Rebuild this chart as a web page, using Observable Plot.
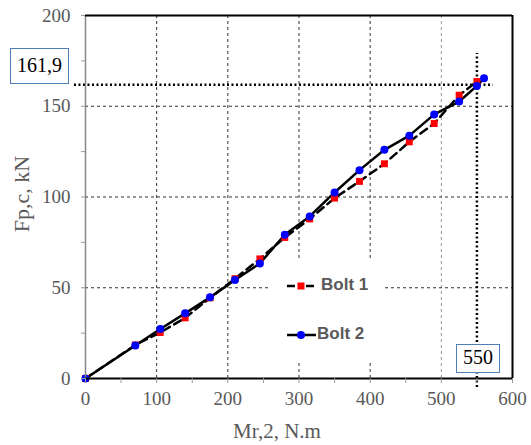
<!DOCTYPE html>
<html><head><meta charset="utf-8">
<script src="https://cdn.jsdelivr.net/npm/d3@7"></script>
<script src="https://cdn.jsdelivr.net/npm/@observablehq/plot@0.6"></script>
<style>body{margin:0;background:#fff}</style>
</head><body><div id="chart"></div>
<script>
// Data
const bolt1X = [0,70,105,140,175,210,245,280,315,350,385,420,455,490,525,550];
const bolt1Y = [0,18.5,25.3,33.4,44.4,55,65.9,77.7,87.9,99.4,108.6,118.3,130.4,140.5,156.1,163.6];
const bolt2X = [0,70,105,140,175,210,245,280,315,350,385,420,455,490,525,550,560];
const bolt2Y = [0,18.2,27.3,35.9,44.7,54.3,63.4,79.2,89.3,102.5,114.8,126,133.8,145.5,152.6,161.2,165.4];
const seriesNames = ["Bolt 1","Bolt 2"];
const xTicks = [0,100,200,300,400,500,600];
const yTicks = [0,50,100,150,200];
const markLoad = 161.9, markLoadLabel = "161,9";
const markMoment = 550, markMomentLabel = "550";
const xLabel = "Mr,2, N.m", yLabel = "Fp,c, kN";

const bolt1 = bolt1X.map((x,i)=>({x, y: bolt1Y[i]}));
const bolt2 = bolt2X.map((x,i)=>({x, y: bolt2Y[i]}));

const svg = Plot.plot({
  width: 531, height: 445,
  marginLeft: 85, marginRight: 19, marginTop: 15, marginBottom: 67,
  x: {domain: [0, 600]},
  y: {domain: [0, 200]},
  style: {fontFamily: "'Liberation Serif', serif", fontSize: "19px", color: "#595959", background: "#fff", overflow: "visible"},
  marks: [
    Plot.gridX(xTicks.filter(d => d > 0 && d < 500), {stroke: "#333", strokeOpacity: 1, strokeDasharray: "3,3", strokeWidth: 1}),
    Plot.gridX([500], {stroke: "#999", strokeOpacity: 1, strokeDasharray: "3,3", strokeWidth: 1}),
    Plot.gridY(yTicks.filter(d => d > 0 && d < 200), {stroke: "#333", strokeOpacity: 1, strokeDasharray: "3,3", strokeWidth: 1}),
    Plot.line(bolt1, {x: "x", y: "y", stroke: "#000", strokeWidth: 2.5, strokeDasharray: "8,5"}),
    Plot.line(bolt2, {x: "x", y: "y", stroke: "#000", strokeWidth: 2.5}),
    Plot.ruleY([markLoad], {x1: () => -15.5, x2: () => 573, stroke: "#000", strokeWidth: 2.5, strokeDasharray: "2,2.5"}),
    Plot.ruleX([markMoment], {y1: () => -5, y2: () => 179, stroke: "#000", strokeWidth: 2.5, strokeDasharray: "2,2.5"}),
    Plot.dot(bolt1, {x: "x", y: "y", symbol: "square", fill: "#ff0000", r: 3.9}),
    Plot.dot(bolt2, {x: "x", y: "y", fill: "#0000ff", r: 4}),
    Plot.ruleX([0], {stroke: "#888", strokeWidth: 1.5}),
    Plot.ruleX([600], {stroke: "#000", strokeWidth: 2}),
    Plot.ruleY([200], {stroke: "#000", strokeWidth: 2}),
    Plot.ruleY([0], {stroke: "#000", strokeWidth: 2}),
    Plot.axisX({ticks: d3.range(0, 601, 50), tickSize: 5, tickPadding: 8, stroke: "#999",
      tickFormat: d => xTicks.includes(d) ? String(d) : "", label: null}),
    Plot.axisY({ticks: d3.range(0, 201, 25), tickSize: 4, tickPadding: 11, stroke: "#999",
      tickFormat: d => yTicks.includes(d) ? String(d) : "", label: null})
  ]
});
document.getElementById("chart").appendChild(svg);

const s = d3.select(svg);
// Axis titles
s.append("text").attr("transform", "translate(24,194) rotate(-90)")
  .attr("text-anchor", "middle").attr("dominant-baseline", "middle")
  .attr("font-family", "'Liberation Serif', serif").attr("font-size", 22).attr("fill", "#595959").text(yLabel);
s.append("text").attr("x", 277).attr("y", 433)
  .attr("text-anchor", "middle").attr("dominant-baseline", "middle")
  .attr("font-family", "'Liberation Serif', serif").attr("font-size", 21).attr("fill", "#595959").text(xLabel);

// Legend
const lg = s.append("g");
lg.append("rect").attr("x", 270).attr("y", 259).attr("width", 113).attr("height", 103).attr("fill", "#fff");
const legendFont = "'Liberation Sans', Arial, sans-serif";
// Bolt 1
lg.append("line").attr("x1", 287).attr("x2", 314).attr("y1", 286).attr("y2", 286)
  .attr("stroke", "#000").attr("stroke-width", 2.5).attr("stroke-dasharray", "8,11");
lg.append("rect").attr("x", 297.5).attr("y", 282.5).attr("width", 7).attr("height", 7).attr("fill", "#ff0000");
lg.append("text").attr("x", 321).attr("y", 286).attr("dominant-baseline", "middle").attr("text-anchor", "start")
  .attr("font-family", legendFont).attr("font-weight", "bold").attr("font-size", 17).attr("fill", "#595959").text(seriesNames[0]);
// Bolt 2
lg.append("line").attr("x1", 287).attr("x2", 316).attr("y1", 335).attr("y2", 335)
  .attr("stroke", "#000").attr("stroke-width", 2.5);
lg.append("circle").attr("cx", 301).attr("cy", 335).attr("r", 4).attr("fill", "#0000ff");
lg.append("text").attr("x", 317).attr("y", 335).attr("dominant-baseline", "middle").attr("text-anchor", "start")
  .attr("font-family", legendFont).attr("font-weight", "bold").attr("font-size", 17).attr("fill", "#595959").text(seriesNames[1]);

// Annotation boxes
function box(x, y, w, h, label) {
  s.append("rect").attr("x", x).attr("y", y).attr("width", w).attr("height", h)
    .attr("fill", "#fff").attr("stroke", "#4f7fb8").attr("stroke-width", 1);
  s.append("text").attr("x", x + w / 2).attr("y", y + h / 2 + 1)
    .attr("text-anchor", "middle").attr("dominant-baseline", "middle")
    .attr("font-family", "'Liberation Serif', serif").attr("font-size", 20).attr("fill", "#000").text(label);
}
box(10.5, 48.5, 58, 35, markLoadLabel);
box(456.5, 344.5, 43, 28, markMomentLabel);
</script>
</body></html>
